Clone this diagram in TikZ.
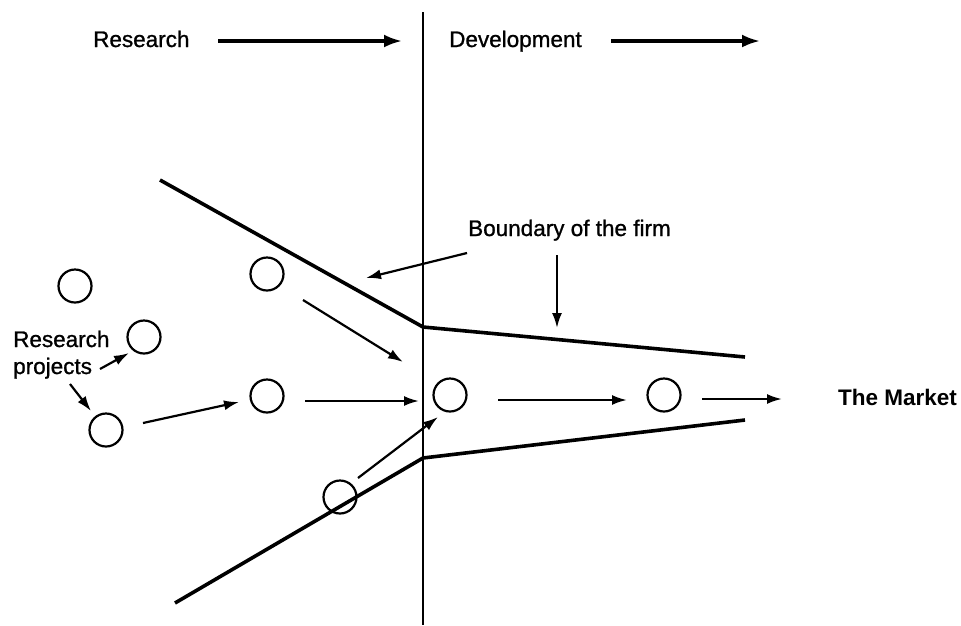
\documentclass[tikz,border=0pt]{standalone}
\usepackage{fontspec}
\setmainfont{Liberation Sans}
\newfontfamily\lblfont[FakeBold=1]{Liberation Sans}
\usetikzlibrary{arrows.meta,calc}
\begin{document}
\begin{tikzpicture}[x=1pt,y=-1pt,
  lbl/.style={inner sep=0pt,font=\lblfont\fontsize{22.5}{27}\selectfont},
  proj/.style={circle,draw,line width=2.2pt,minimum size=33pt,inner sep=0pt},
  arr/.style={line width=2.2pt,-{Latex[length=15pt,width=10pt]}},
  bigarr/.style={line width=3.2pt,-{Latex[length=18pt,width=13pt]}},
  bound/.style={line width=3.6pt,line join=miter}]
\useasboundingbox (0,0) rectangle (961,625);
% divider
\draw[line width=1.8pt] (423,12) coordinate (vt) -- (423,625) coordinate (vb);
% top labels
\node[lbl,anchor=base west] (res) at (93,47) {Research};
\node[lbl,anchor=base west] (dev) at (449,47) {Development};
\coordinate (ra1) at (218,41);
\coordinate (ra2) at (402,41);
\coordinate (da1) at (611,41);
\coordinate (da2) at (760,41);
\draw[bigarr] (ra1) -- (ra2);
\draw[bigarr] (da1) -- (da2);
% boundary
\coordinate (u1) at (160,180);
\coordinate (u2) at (423,327);
\coordinate (u3) at (745,357);
\coordinate (l1) at (175,603);
\coordinate (l2) at (423,458);
\coordinate (l3) at (745,420);
\draw[bound] (u1) -- (u2) -- (u3);
\draw[bound] (l1) -- (l2) -- (l3);
% circles
\node[proj] (c1) at (75,286) {};
\node[proj] (c2) at (144,337) {};
\node[proj] (c3) at (106,430) {};
\node[proj] (c4) at (267,274) {};
\node[proj] (c5) at (267,396) {};
\node[proj] (c6) at (340,497) {};
\node[proj] (c7) at (450,395) {};
\node[proj] (c8) at (664,395) {};
% labels
\node[lbl,anchor=base west] (bf) at (468,236) {Boundary of the firm};
\node[lbl,anchor=base west,font=\fontsize{22.5}{27}\selectfont\bfseries] (mk) at (838,405) {The Market};
\node[lbl,anchor=base west] (rp1) at (13,347) {Research};
\node[lbl,anchor=base west] (rp2) at (13,374) {projects};
% arrows
\draw[arr] (100,369) -- (129,353);
\draw[arr] (70,384) -- (91,411);
\draw[arr] ($(c3)+(37,-7)$) -- ($(c5)+(-28,6)$);
\draw[arr] (303,300) -- (403,362);
\draw[arr] (305,401) -- (419,401);
\draw[arr] (358,478) -- (438,417);
\draw[arr] (498,400) -- (627,400);
\draw[arr] (702,399) -- (782,399);
\draw[arr] (467,253) -- (366,278);
\draw[arr] (557,255) -- (557,328);
\end{tikzpicture}
\end{document}
